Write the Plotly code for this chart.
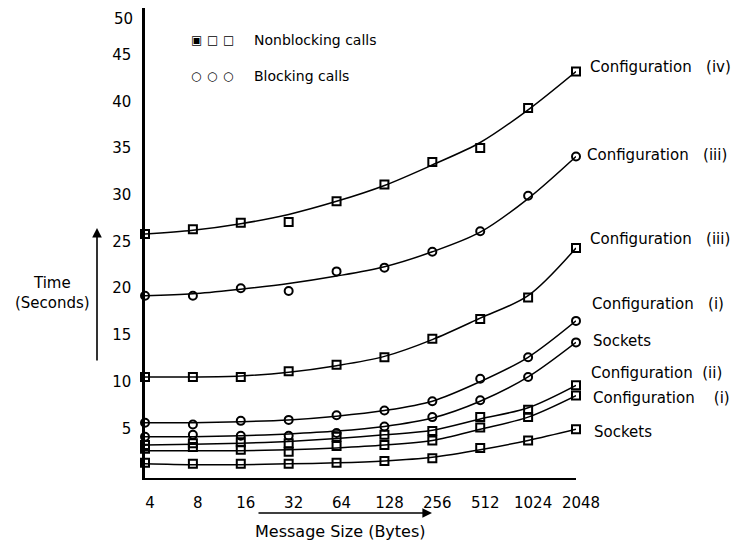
import plotly.graph_objects as go

# ---------------- data ----------------
message_sizes = ["4", "8", "16", "32", "64", "128", "256", "512", "1024", "2048"]
y_tick_values = [5, 10, 15, 20, 25, 30, 35, 40, 45]
y_top_label = 50

# Nonblocking calls (square markers): measured points and the drawn fitted curve
nonblock_conf4_pts = [25.8, 26.3, 27.0, 27.1, 29.3, 31.1, 33.5, 35.0, 39.3, 43.2]
nonblock_conf4_fit = [25.8, 26.2, 26.9, 27.9, 29.3, 31.0, 33.2, 35.6, 39.1, 43.2]
nonblock_conf3_pts = [10.5, 10.5, 10.5, 11.1, 11.8, 12.6, 14.6, 16.7, 19.0, 24.3]
nonblock_conf3_fit = [10.5, 10.5, 10.6, 11.0, 11.7, 12.7, 14.5, 16.8, 19.2, 24.3]
nonblock_conf2_pts = [3.2, 3.4, 3.5, 3.4, 4.1, 4.3, 4.7, 6.2, 7.0, 9.6]
nonblock_conf2_fit = [3.2, 3.3, 3.4, 3.6, 3.9, 4.3, 4.8, 6.0, 7.2, 9.6]
nonblock_conf1_pts = [2.8, 3.0, 2.7, 2.5, 3.1, 3.2, 3.7, 5.1, 6.2, 8.5]
nonblock_conf1_fit = [2.6, 2.6, 2.6, 2.7, 2.9, 3.2, 3.7, 4.9, 6.2, 8.5]
nonblock_sockets_pts = [1.3, 1.2, 1.2, 1.2, 1.3, 1.5, 1.8, 2.9, 3.7, 4.9]
nonblock_sockets_fit = [1.2, 1.1, 1.1, 1.2, 1.3, 1.5, 1.9, 2.7, 3.7, 4.9]

# Blocking calls (circle markers)
block_conf3_pts = [19.2, 19.2, 20.0, 19.7, 21.8, 22.2, 23.9, 26.1, 29.9, 34.1]
block_conf3_fit = [19.2, 19.4, 19.9, 20.5, 21.3, 22.3, 23.9, 26.0, 29.6, 34.1]
block_conf1_pts = [5.6, 5.4, 5.8, 5.9, 6.4, 6.9, 7.9, 10.3, 12.6, 16.5]
block_conf1_fit = [5.6, 5.6, 5.7, 5.9, 6.3, 6.9, 7.9, 10.0, 12.6, 16.5]
block_sockets_pts = [4.1, 4.3, 4.2, 4.2, 4.5, 5.2, 6.2, 8.0, 10.5, 14.2]
block_sockets_fit = [4.1, 4.1, 4.2, 4.4, 4.7, 5.2, 6.1, 7.9, 10.5, 14.2]

NB = "\u00a0"
series_labels = [
    "Configuration" + NB * 3 + "(iv)",
    "Configuration" + NB * 3 + "(iii)",
    "Configuration" + NB * 3 + "(iii)",
    "Configuration" + NB * 3 + "(i)",
    "Sockets",
    "Configuration" + NB * 2 + "(ii)",
    "Configuration" + NB * 4 + "(i)",
    "Sockets",
]

# ---------------- styling ----------------
FONT = "DejaVu Sans"
BLACK = "#000000"
BODY = 8  # default page margin of the html body (figure is offset by this)
W, H = 740 - BODY, 542 - BODY

# plot area in window pixels
PL, PW, PT, PH = 145, 431, 8, 470

series = [
    # (points, fit, symbol, label, xshift px, yshift px)
    (nonblock_conf4_pts, nonblock_conf4_fit, "square-open", series_labels[0], 12, 5),
    (block_conf3_pts, block_conf3_fit, "circle-open", series_labels[1], 9, 2),
    (nonblock_conf3_pts, nonblock_conf3_fit, "square-open", series_labels[2], 12, 9),
    (block_conf1_pts, block_conf1_fit, "circle-open", series_labels[3], 14, 17),
    (block_sockets_pts, block_sockets_fit, "circle-open", series_labels[4], 15, 1),
    (nonblock_conf2_pts, nonblock_conf2_fit, "square-open", series_labels[5], 13, 12),
    (nonblock_conf1_pts, nonblock_conf1_fit, "square-open", series_labels[6], 15, -2),
    (nonblock_sockets_pts, nonblock_sockets_fit, "square-open", series_labels[7], 16, -3),
]

fig = go.Figure()
annotations = []
for pts, fit, symbol, label, xs, ys in series:
    fig.add_trace(go.Scatter(
        x=message_sizes, y=fit, mode="lines",
        line=dict(color=BLACK, width=1.5, shape="spline", smoothing=0.9),
        showlegend=False, hoverinfo="skip", cliponaxis=False,
    ))
    fig.add_trace(go.Scatter(
        x=message_sizes, y=pts, mode="markers",
        marker=dict(symbol=symbol, size=8, color=BLACK, line=dict(width=2, color=BLACK)),
        showlegend=False, cliponaxis=False,
    ))
    annotations.append(dict(
        x=1, y=fit[-1], xref="paper", yref="y",
        text=label, showarrow=False, xanchor="left", yanchor="middle",
        xshift=xs, yshift=ys, font=dict(family=FONT, size=15, color=BLACK),
    ))


def px(xp):
    return (xp - PL) / PW


def py(yp):
    return (PT + PH - yp) / PH


# top y-axis label, lettered lower than its exact place as in the reference
annotations.append(dict(
    x=0, y=y_top_label, xref="paper", yref="y", text=str(y_top_label), showarrow=False,
    xanchor="right", yanchor="middle", xshift=-10, yshift=-11,
    font=dict(family=FONT, size=15, color=BLACK),
))

# Legend drawn as text glyphs
legend_rows = [
    (["\u25A3", "\u25A1", "\u25A1"], 40, "Nonblocking calls"),
    (["\u25CB", "\u25CB", "\u25CB"], 76, "Blocking calls"),
]
for glyphs, ypix, text in legend_rows:
    for gx, g in zip([196, 212, 228], glyphs):
        annotations.append(dict(
            x=px(gx), y=py(ypix), xref="paper", yref="paper", text=g, showarrow=False,
            xanchor="center", yanchor="middle",
            font=dict(family=FONT, size=12, color=BLACK),
        ))
    annotations.append(dict(
        x=px(252), y=py(ypix), xref="paper", yref="paper", text=text, showarrow=False,
        xanchor="left", yanchor="middle", font=dict(family=FONT, size=14, color=BLACK),
    ))

# Axis titles with arrows
annotations.append(dict(
    x=px(52), y=py(293), xref="paper", yref="paper", text="Time<br>(Seconds)",
    showarrow=False, xanchor="center", yanchor="middle", align="center",
    font=dict(family=FONT, size=15, color=BLACK),
))
annotations.append(dict(
    x=px(97), y=py(228), xref="paper", yref="paper", text="", showarrow=True,
    ax=0, ay=134, arrowhead=2, arrowsize=1.2, arrowwidth=1.6, arrowcolor=BLACK,
))
annotations.append(dict(
    x=px(340), y=py(531), xref="paper", yref="paper", text="Message Size (Bytes)",
    showarrow=False, xanchor="center", yanchor="middle",
    font=dict(family=FONT, size=16, color=BLACK),
))
annotations.append(dict(
    x=px(432), y=py(513), xref="paper", yref="paper", text="", showarrow=True,
    ax=-175, ay=0, arrowhead=2, arrowsize=1.2, arrowwidth=1.6, arrowcolor=BLACK,
))

fig.update_layout(
    width=W, height=H,
    margin=dict(l=PL - BODY, r=W - (PL - BODY) - PW, t=PT - BODY, b=H - (PT - BODY) - PH,
                pad=0, autoexpand=False),
    paper_bgcolor="white", plot_bgcolor="white",
    font=dict(family=FONT, color=BLACK),
    showlegend=False,
    annotations=annotations,
    xaxis=dict(
        type="category", range=[0, 9], showgrid=False, zeroline=False,
        showline=True, linecolor=BLACK, linewidth=2, ticks="",
        tickfont=dict(family=FONT, size=15, color=BLACK),
        ticklabelstandoff=10, ticklabelshift=5,
    ),
    yaxis=dict(
        range=[-0.32, 50.0], showgrid=False, zeroline=False,
        showline=True, linecolor=BLACK, linewidth=2.5, ticks="",
        tickvals=y_tick_values, ticktext=[str(v) for v in y_tick_values],
        tickfont=dict(family=FONT, size=15, color=BLACK),
        ticklabelstandoff=8,
    ),
)

fig.write_html("out.html")
